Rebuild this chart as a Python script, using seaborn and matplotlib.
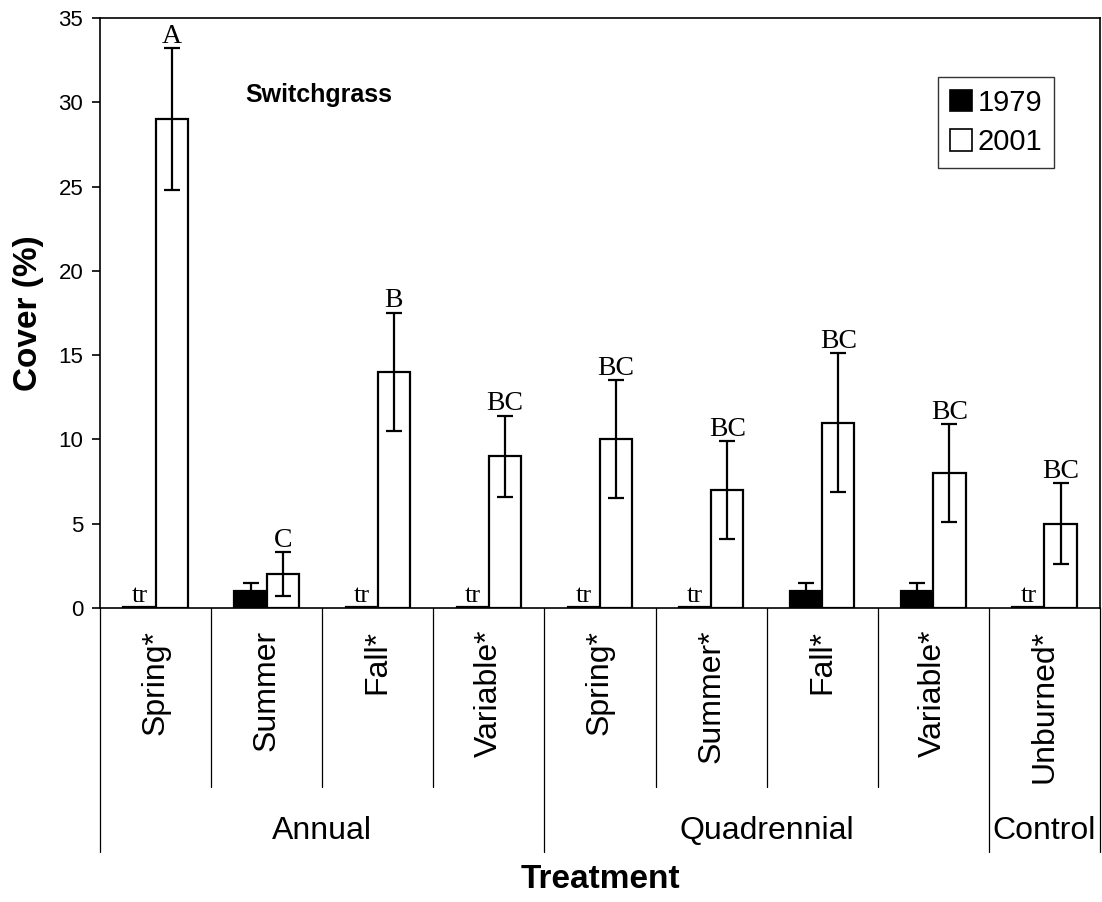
import seaborn as sns
import matplotlib.pyplot as plt
import matplotlib.patches as mpatches
import numpy as np
import pandas as pd

sns.set_theme(style="white")
plt.rcParams['font.family'] = ['Liberation Sans', 'DejaVu Sans']
plt.rcParams.update({'text.color': 'black', 'axes.labelcolor': 'black',
                     'xtick.color': 'black', 'ytick.color': 'black'})

# data
seasons = ['Spring*', 'Summer', 'Fall*', 'Variable*',
           'Spring*', 'Summer*', 'Fall*', 'Variable*', 'Unburned*']
groups = ['Annual', 'Quadrennial', 'Control']
group_sizes = [4, 4, 1]
years = ['1979', '2001']

cover_1979 = [0.05, 1.0, 0.05, 0.05, 0.05, 0.05, 1.0, 1.0, 0.05]
err_1979 = [np.nan, 0.5, np.nan, np.nan, np.nan, np.nan, 0.5, 0.5, np.nan]
trace_1979 = [True, False, True, True, True, True, False, False, True]

cover_2001 = [29.0, 2.0, 14.0, 9.0, 10.0, 7.0, 11.0, 8.0, 5.0]
err_2001 = [4.2, 1.3, 3.5, 2.4, 3.5, 2.9, 4.1, 2.9, 2.4]
letters_2001 = ['A', 'C', 'B', 'BC', 'BC', 'BC', 'BC', 'BC', 'BC']

n = len(seasons)
keys = [f'{i}' for i in range(n)]
df = pd.DataFrame({
    'key': keys * 2,
    'year': ['1979'] * n + ['2001'] * n,
    'cover': cover_1979 + cover_2001,
})

fig = plt.figure(figsize=(11.02, 9.02), dpi=100)
ax = fig.add_axes([100 / 1102, 1 - 608 / 902, 1000 / 1102, 590 / 902])

sns.barplot(data=df, x='key', y='cover', hue='year', order=keys, hue_order=years,
            palette=['black', 'white'], edgecolor='black', linewidth=1.6,
            width=0.58, errorbar=None, legend=False, ax=ax)

serif = ['Liberation Serif', 'DejaVu Serif']
for cont, vals, errs in zip(ax.containers, [cover_1979, cover_2001], [err_1979, err_2001]):
    xs = [p.get_x() + p.get_width() / 2 for p in cont.patches]
    ax.errorbar(xs, vals, yerr=errs, fmt='none', ecolor='black',
                elinewidth=1.6, capsize=6, capthick=1.6, zorder=5)
    if vals is cover_2001:
        for x, v, e, lab in zip(xs, vals, errs, letters_2001):
            ax.annotate(lab, (x, v + e), xytext=(0, 4), textcoords='offset points',
                        ha='center', va='baseline', fontsize=20, family=serif)
    else:
        for x, v, tr in zip(xs, vals, trace_1979):
            if tr:
                ax.annotate('tr', (x, 0), xytext=(0, 4.5), textcoords='offset points',
                            ha='center', va='baseline', fontsize=19, family=serif)

ax.set_ylim(0, 35)
ax.set_xlim(-0.5, n - 0.5)
ax.set_yticks(np.arange(0, 36, 5))
ax.tick_params(axis='y', labelsize=16, length=6, width=1.2, direction='out', left=True, pad=6)
ax.tick_params(axis='x', bottom=False, labelbottom=False)
ax.set_xlabel('')
for s in ax.spines.values():
    s.set_color('black')
    s.set_linewidth(1.2)

ax.set_ylabel('Cover (%)', fontsize=24, fontweight='bold')
ax.yaxis.set_label_coords(-0.056, 0.5)

ax.text(0.145, 0.87, 'Switchgrass', transform=ax.transAxes, fontsize=18,
        fontweight='bold', va='center', ha='left')

# category table below the axis
trans = ax.get_xaxis_transform()
bounds = np.cumsum([0] + group_sizes)
for k in range(n + 1):
    y_end = -0.414 if k in bounds else -0.303
    ax.plot([k - 0.5, k - 0.5], [0, y_end], transform=trans, color='black',
            lw=0.9, clip_on=False)
for i, s in enumerate(seasons):
    ax.text(i, -0.037, s, transform=trans, rotation=90, ha='center', va='top',
            fontsize=23)
for g, a, b in zip(groups, bounds[:-1], bounds[1:]):
    ax.text((a + b - 1) / 2, -0.378, g, transform=trans, ha='center', va='center',
            fontsize=23)
ax.text(0.5, -0.461, 'Treatment', transform=ax.transAxes, ha='center', va='center',
        fontsize=24, fontweight='bold')

handles = [mpatches.Patch(facecolor=c, edgecolor='black', linewidth=1.2)
           for c in ['black', 'white']]
leg = ax.legend(handles, years, loc='upper right', bbox_to_anchor=(0.954, 0.9),
                fontsize=21, frameon=True, fancybox=False, borderaxespad=0,
                handlelength=0.75, handleheight=0.75, handletextpad=0.2,
                labelspacing=0.4, borderpad=0.4)
leg.get_frame().set_edgecolor('black')
leg.get_frame().set_linewidth(1.0)

fig.savefig('out.png', dpi=100)
